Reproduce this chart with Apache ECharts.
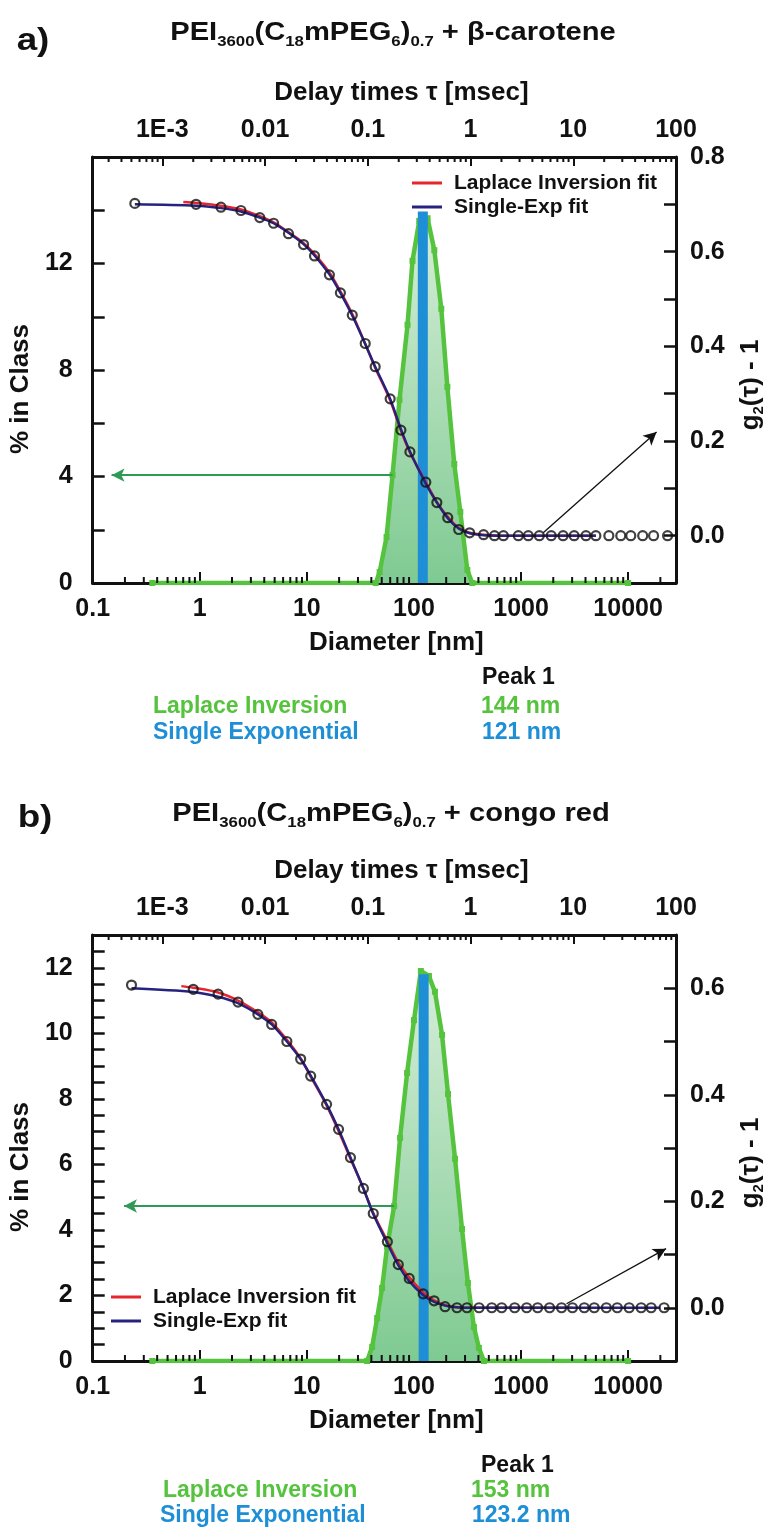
<!DOCTYPE html>
<html>
<head>
<meta charset="utf-8">
<title>DLS: PEI3600(C18mPEG6)0.7 size distributions</title>
<script src="https://cdn.jsdelivr.net/npm/echarts@6.0.0/dist/echarts.min.js"></script>
<style>
  html, body { margin: 0; padding: 0; background: #fff; }
  #chart { width: 774px; height: 1528px; }
</style>
</head>
<body>
<div id="chart"></div>
<script>
// ---- tick labels (decades) ----
var diamTickLabels = ['0.1', '1', '10', '100', '1000', '10000'];   // 10^-1 .. 10^4
var tauTickLabels = ['1E-3', '0.01', '0.1', '1', '10', '100'];     // 10^-3 .. 10^2

// ---- panel a : beta-carotene ----
// correlation data, delay time [ms] vs g2(tau)-1
var tauA = [5.4e-4, 2.13e-3, 3.72e-3, 5.82e-3, 8.89e-3, 0.0121, 0.0169, 0.0237, 0.0303, 0.0423,
  0.0541, 0.0706, 0.0944, 0.118, 0.165, 0.210, 0.257, 0.367, 0.470, 0.600,
  0.767, 0.98, 1.34, 1.71, 2.09, 2.92, 3.65, 4.67, 6.10, 7.96,
  10.2, 13.3, 16.6, 22.2, 29.0, 36.3, 47.4, 60.5, 82.8];
var gA = [0.702, 0.700, 0.694, 0.687, 0.672, 0.660, 0.638, 0.615, 0.591, 0.551,
  0.513, 0.466, 0.406, 0.357, 0.289, 0.223, 0.177, 0.113, 0.070, 0.038,
  0.013, 0.006, 0.002, 0, 0, 0, 0, 0, 0, 0,
  0, 0, 0, 0, 0, 0, 0, 0, 0];
// fits
var expTauA = [5.4e-4, 2.13e-3, 3.72e-3, 5.82e-3, 8.89e-3, 0.0121, 0.0169, 0.0237, 0.0303, 0.0423,
  0.0541, 0.0706, 0.0944, 0.118, 0.165, 0.210, 0.257, 0.367, 0.470, 0.600,
  0.767, 0.98, 1.34, 2.09, 4.67, 10.2, 16.6];
var expGA = [0.700, 0.697, 0.692, 0.685, 0.672, 0.660, 0.640, 0.616, 0.592, 0.552,
  0.513, 0.465, 0.405, 0.357, 0.289, 0.225, 0.178, 0.110, 0.070, 0.037,
  0.015, 0.005, 0.001, 0, 0, 0, 0];
var lapTauA = [1.6e-3, 2.13e-3, 3.72e-3, 5.82e-3, 8.89e-3, 0.0121, 0.0169, 0.0237, 0.0303, 0.0423,
  0.0541, 0.0706, 0.0944, 0.118, 0.165, 0.210, 0.257, 0.367, 0.470, 0.600,
  0.767, 0.98, 1.34, 2.09, 4.67, 16.6];
var lapGA = [0.705, 0.703, 0.697, 0.689, 0.675, 0.662, 0.641, 0.618, 0.595, 0.556,
  0.516, 0.468, 0.405, 0.355, 0.286, 0.222, 0.176, 0.113, 0.071, 0.040,
  0.016, 0.006, 0.002, 0, 0, 0];
// Laplace inversion size distribution, diameter [nm] vs % in class
var distDA = [0.36, 44, 47.8, 55.5, 63.1, 73.3, 87.1, 96.9, 112, 134, 155, 180, 205, 238, 271, 315, 350, 10000];
var distPA = [0, 0, 0.41, 1.73, 4.06, 6.88, 9.70, 12.1, 13.6, 13.7, 12.5, 10.3, 7.37, 4.47, 2.67, 0.49, 0, 0];
// single exponential result
var barDA = [121, 121];
var barPA = [0, 13.95];
// arrows: [x, y] pairs
var greenArrowA = [[63.1, 4.05], [0.15, 4.05]];
var blackArrowA = [[5.1, 0.006], [64.7, 0.219]];

// ---- panel b : congo red ----
var tauB = [5.01e-4, 2.00e-3, 3.49e-3, 5.45e-3, 8.51e-3, 0.0116, 0.0163, 0.0222, 0.0278, 0.0397,
  0.0519, 0.0678, 0.0906, 0.113, 0.155, 0.198, 0.253, 0.346, 0.442, 0.565,
  0.738, 0.923, 1.21, 1.61, 2.01, 2.69, 3.52, 4.50, 5.88, 7.69,
  9.82, 12.8, 16.0, 21.0, 26.8, 35.0, 45.8, 57.3, 76.6];
var gB = [0.606, 0.598, 0.589, 0.574, 0.551, 0.532, 0.500, 0.467, 0.435, 0.382,
  0.335, 0.282, 0.224, 0.177, 0.124, 0.081, 0.055, 0.026, 0.013, 0.002,
  0, 0, 0, 0, 0, 0, 0, 0, 0, 0,
  0, 0, 0, 0, 0, 0, 0, 0, 0];
var expTauB = [5.01e-4, 2.00e-3, 3.49e-3, 5.45e-3, 8.51e-3, 0.0116, 0.0163, 0.0222, 0.0278, 0.0397,
  0.0519, 0.0678, 0.0906, 0.113, 0.155, 0.198, 0.253, 0.346, 0.442, 0.565,
  0.738, 0.923, 1.21, 2.01, 5.88, 16.0, 45.8, 70.0];
var expGB = [0.600, 0.593, 0.584, 0.572, 0.551, 0.532, 0.500, 0.467, 0.436, 0.382,
  0.335, 0.282, 0.224, 0.176, 0.121, 0.080, 0.050, 0.024, 0.011, 0.004,
  0.001, 0, 0, 0, 0, 0, 0, 0];
var lapTauB = [1.53e-3, 2.00e-3, 3.49e-3, 5.45e-3, 8.51e-3, 0.0116, 0.0163, 0.0222, 0.0278, 0.0397,
  0.0519, 0.0678, 0.0906, 0.113, 0.155, 0.198, 0.253, 0.346, 0.442, 0.565,
  0.738, 0.923, 1.21, 2.01, 9.82];
var lapGB = [0.604, 0.601, 0.592, 0.577, 0.555, 0.536, 0.503, 0.468, 0.434, 0.380,
  0.332, 0.280, 0.224, 0.178, 0.125, 0.085, 0.057, 0.029, 0.014, 0.005,
  0.001, 0, 0, 0, 0];
var distDB = [0.36, 36.5, 40.7, 45.3, 50.4, 56.1, 65.3, 74.2, 86.3, 100, 116, 138, 157, 183, 208, 242, 281, 319, 363, 404, 450, 10000];
var distPB = [0, 0, 0.43, 1.31, 2.23, 3.48, 4.73, 6.81, 8.79, 10.4, 11.9, 11.75, 11.27, 9.95, 8.15, 6.17, 4.03, 2.38, 1.04, 0.40, 0, 0];
var barDB = [123.2, 123.2];
var barPB = [0, 11.8];
var greenArrowB = [[65.3, 4.73], [0.196, 4.73]];
var blackArrowB = [[8.6, 0.0075], [80, 0.111]];

// ---- styles ----
var INK = '#111';
var RED = '#e6262c';
var NAVY = '#25237f';
var GREEN = '#55c33d';
var BLUE = '#1e8fd6';
var ARROW_GREEN = '#2f9a55';
var FONT = '"Liberation Sans", Arial, sans-serif';

function zip(xs, ys) {
  return xs.map(function (x, i) { return [x, ys[i]]; });
}

// label only exact decades, looked up in the given label list
function decadeLabel(labels, firstExp) {
  return function (v) {
    var e = Math.log10(v), r = Math.round(e);
    if (Math.abs(e - r) > 0.01) return '';
    return labels[r - firstExp] || '';
  };
}

// log minor tick values (2..9 x 10^k) inside (lo, hi)
function logMinor(lo, hi) {
  var out = [];
  for (var k = Math.floor(Math.log10(lo)); k <= Math.ceil(Math.log10(hi)); k++) {
    for (var m = 2; m <= 9; m++) {
      var v = m * Math.pow(10, k);
      if (v > lo && v < hi) out.push([v]);
    }
  }
  return out;
}

function tickRenderer(side) {
  return function (params, api) {
    var cs = params.coordSys;
    var x = api.coord([api.value(0), 0])[0];
    var y0 = side === 'bottom' ? cs.y + cs.height : cs.y;
    var y1 = side === 'bottom' ? y0 - 6 : y0 + 5;
    return { type: 'line', shape: { x1: x, y1: y0, x2: x, y2: y1 },
      style: { stroke: INK, lineWidth: 2 } };
  };
}

var axisLine = { onZero: false, lineStyle: { color: INK, width: 3 } };
var labelBase = { fontFamily: FONT, fontSize: 25, fontWeight: 'bold', color: INK };
var nameBase = { fontFamily: FONT, fontSize: 26, fontWeight: 'bold', color: INK };

function diamAxis(grid) {
  return {
    type: 'log', gridIndex: grid, position: 'bottom', min: 0.1, max: 28000,
    name: 'Diameter [nm]', nameLocation: 'middle', nameGap: 47,
    nameTextStyle: Object.assign({ padding: [0, 0, 0, 24] }, nameBase),
    axisLine: axisLine,
    axisTick: { inside: true, length: 11, lineStyle: { color: INK, width: 2 } },
    axisLabel: Object.assign({ margin: 14, formatter: decadeLabel(diamTickLabels, -1) }, labelBase),
    splitLine: { show: false }
  };
}
function tauAxis(grid) {
  return {
    type: 'log', gridIndex: grid, position: 'top', min: 2.1e-4, max: 100,
    name: 'Delay times τ [msec]', nameLocation: 'middle', nameGap: 51,
    nameTextStyle: Object.assign({ padding: [0, 0, 0, 34] }, nameBase),
    axisLine: axisLine,
    axisTick: { inside: true, length: 9, lineStyle: { color: INK, width: 2 } },
    axisLabel: Object.assign({ margin: 14, formatter: decadeLabel(tauTickLabels, -3) }, labelBase),
    splitLine: { show: false }
  };
}
function pctAxis(grid, max, step, every) {
  return {
    type: 'value', gridIndex: grid, position: 'left', min: 0, max: max, interval: step,
    name: '% in Class', nameLocation: 'middle', nameGap: 52, nameRotate: 90,
    nameTextStyle: Object.assign({ padding: [0, 38, 0, 0] }, nameBase),
    axisLine: axisLine,
    axisTick: { inside: true, length: 12, lineStyle: { color: INK, width: 2.5 } },
    axisLabel: Object.assign({ margin: 20, showMaxLabel: false,
      formatter: function (v) { return v % every === 0 ? String(v) : ''; } }, labelBase),
    splitLine: { show: false }
  };
}
function gAxis(grid, max) {
  return {
    type: 'value', gridIndex: grid, position: 'right', min: -0.1, max: max, interval: 0.1,
    name: 'g{s|2}(τ) - 1', nameLocation: 'middle', nameGap: 60, nameRotate: 90,
    nameTextStyle: Object.assign({ padding: [0, 30, 0, 0], lineHeight: 30,
      rich: { s: { fontFamily: FONT, fontSize: 15, fontWeight: 'bold', color: INK,
        lineHeight: 14, verticalAlign: 'bottom' } } }, nameBase),
    axisLine: axisLine,
    axisTick: { inside: true, length: 12, lineStyle: { color: INK, width: 2.5 } },
    axisLabel: Object.assign({ margin: 14,
      formatter: function (v) { return Math.round(v * 10) % 2 === 0 ? v.toFixed(1) : ''; } }, labelBase),
    splitLine: { show: false }
  };
}

function arrow(color, width, pts) {
  return {
    silent: true, symbol: ['none', 'arrow'], symbolSize: [10, 13],
    label: { show: false },
    lineStyle: { color: color, width: width, type: 'solid' },
    emphasis: { disabled: true },
    data: [[{ coord: pts[0] }, { coord: pts[1] }]]
  };
}

function panelSeries(g, d) {
  var xb = g * 2, xt = g * 2 + 1, yl = g * 2, yr = g * 2 + 1;
  return [
    { type: 'line', name: 'Laplace Inversion', xAxisIndex: xb, yAxisIndex: yl, z: 2,
      data: zip(d.distD, d.distP), symbol: 'rect', symbolSize: 6,
      itemStyle: { color: GREEN }, lineStyle: { color: GREEN, width: 4.5 },
      areaStyle: { color: new echarts.graphic.LinearGradient(0, 0, 0, 1, [
        { offset: 0, color: '#d6eed9' }, { offset: 1, color: '#7fca92' }]), opacity: 1 },
      markLine: arrow(ARROW_GREEN, 2, d.greenArrow) },
    { type: 'line', name: 'Single Exponential', xAxisIndex: xb, yAxisIndex: yl, z: 3,
      data: zip(d.barD, d.barP), symbol: 'none',
      itemStyle: { color: BLUE }, lineStyle: { color: BLUE, width: 10, cap: 'butt' } },
    { type: 'line', name: 'Laplace Inversion fit', xAxisIndex: xt, yAxisIndex: yr, z: 4,
      data: zip(d.lapTau, d.lapG), smooth: 0.3, symbol: 'none',
      itemStyle: { color: RED }, lineStyle: { color: RED, width: 2.5 } },
    { type: 'line', name: 'Single-Exp fit', xAxisIndex: xt, yAxisIndex: yr, z: 5,
      data: zip(d.expTau, d.expG), smooth: 0.3, symbol: 'none',
      itemStyle: { color: NAVY }, lineStyle: { color: NAVY, width: 2.5 } },
    { type: 'scatter', name: 'g2(τ)-1 data', xAxisIndex: xt, yAxisIndex: yr, z: 6,
      data: zip(d.tau, d.g), symbol: 'circle', symbolSize: 9,
      itemStyle: { color: 'rgba(255,255,255,0)', borderColor: INK, borderWidth: 2.2 },
      markLine: arrow(INK, 1.3, d.blackArrow) },
    { type: 'custom', xAxisIndex: xb, yAxisIndex: yl, z: 7, silent: true,
      data: logMinor(0.1, 28000), renderItem: tickRenderer('bottom') },
    { type: 'custom', xAxisIndex: xt, yAxisIndex: yr, z: 7, silent: true,
      data: logMinor(2.1e-4, 100), renderItem: tickRenderer('top') }
  ];
}

function txt(text, x, y, o) {
  o = o || {};
  return { type: 'text', x: x, y: y, scaleX: o.scaleX || 1, silent: true,
    style: { text: text, fill: o.color || INK, fontFamily: FONT, fontWeight: 'bold',
      fontSize: o.size || 23, align: o.align || 'left', verticalAlign: 'middle', rich: o.rich } };
}
var titleRich = {
  m: { fontFamily: FONT, fontWeight: 'bold', fontSize: 26, lineHeight: 32, fill: INK },
  s: { fontFamily: FONT, fontWeight: 'bold', fontSize: 15, lineHeight: 15, verticalAlign: 'bottom', fill: INK }
};
function title(rest, x, y) {
  return txt('{m|PEI}{s|3600}{m|(C}{s|18}{m|mPEG}{s|6}{m|)}{s|0.7}{m| + ' + rest + '}', x, y,
    { align: 'center', scaleX: 1.12, rich: titleRich });
}

function legend(left, top) {
  return {
    left: left, top: top, padding: 0, orient: 'vertical', icon: 'rect', itemWidth: 30, itemHeight: 3,
    itemGap: 0, selectedMode: false, data: ['Laplace Inversion fit', 'Single-Exp fit'],
    textStyle: { fontFamily: FONT, fontSize: 21, fontWeight: 'bold', color: INK,
      lineHeight: 24, padding: [0, 0, 0, 7] }
  };
}

var chart = echarts.init(document.getElementById('chart'), null, { renderer: 'canvas' });
chart.setOption({
  backgroundColor: '#fff',
  animation: false,
  grid: [
    { left: 90, top: 157, width: 586, height: 426 },
    { left: 90, top: 935, width: 586, height: 426 }
  ],
  xAxis: [diamAxis(0), tauAxis(0), diamAxis(1), tauAxis(1)],
  yAxis: [pctAxis(0, 16, 2, 4), gAxis(0, 0.8), pctAxis(1, 13, 0.5, 2), gAxis(1, 0.7)],
  legend: [legend(412, 171), legend(111, 1285)],
  series: panelSeries(0, {
    tau: tauA, g: gA, expTau: expTauA, expG: expGA, lapTau: lapTauA, lapG: lapGA,
    distD: distDA, distP: distPA, barD: barDA, barP: barPA,
    greenArrow: greenArrowA, blackArrow: blackArrowA
  }).concat(panelSeries(1, {
    tau: tauB, g: gB, expTau: expTauB, expG: expGB, lapTau: lapTauB, lapG: lapGB,
    distD: distDB, distP: distPB, barD: barDB, barP: barPB,
    greenArrow: greenArrowB, blackArrow: blackArrowB
  })),
  graphic: [
    txt('a)', 33, 41, { size: 32, align: 'center', scaleX: 1.15 }),
    title('β-carotene', 393, 33),
    txt('Peak 1', 482, 678),
    txt('Laplace Inversion', 153, 707, { color: GREEN }),
    txt('144 nm', 481, 707, { color: GREEN }),
    txt('Single Exponential', 153, 733, { color: BLUE }),
    txt('121 nm', 482, 733, { color: BLUE }),

    txt('b)', 35, 818, { size: 32, align: 'center', scaleX: 1.15 }),
    title('congo red', 391, 814),
    txt('Peak 1', 481, 1466),
    txt('Laplace Inversion', 163, 1491, { color: GREEN }),
    txt('153 nm', 471, 1491, { color: GREEN }),
    txt('Single Exponential', 160, 1516, { color: BLUE }),
    txt('123.2 nm', 472, 1516, { color: BLUE })
  ]
});
window.addEventListener('resize', function () { chart.resize(); });
</script>
</body>
</html>
